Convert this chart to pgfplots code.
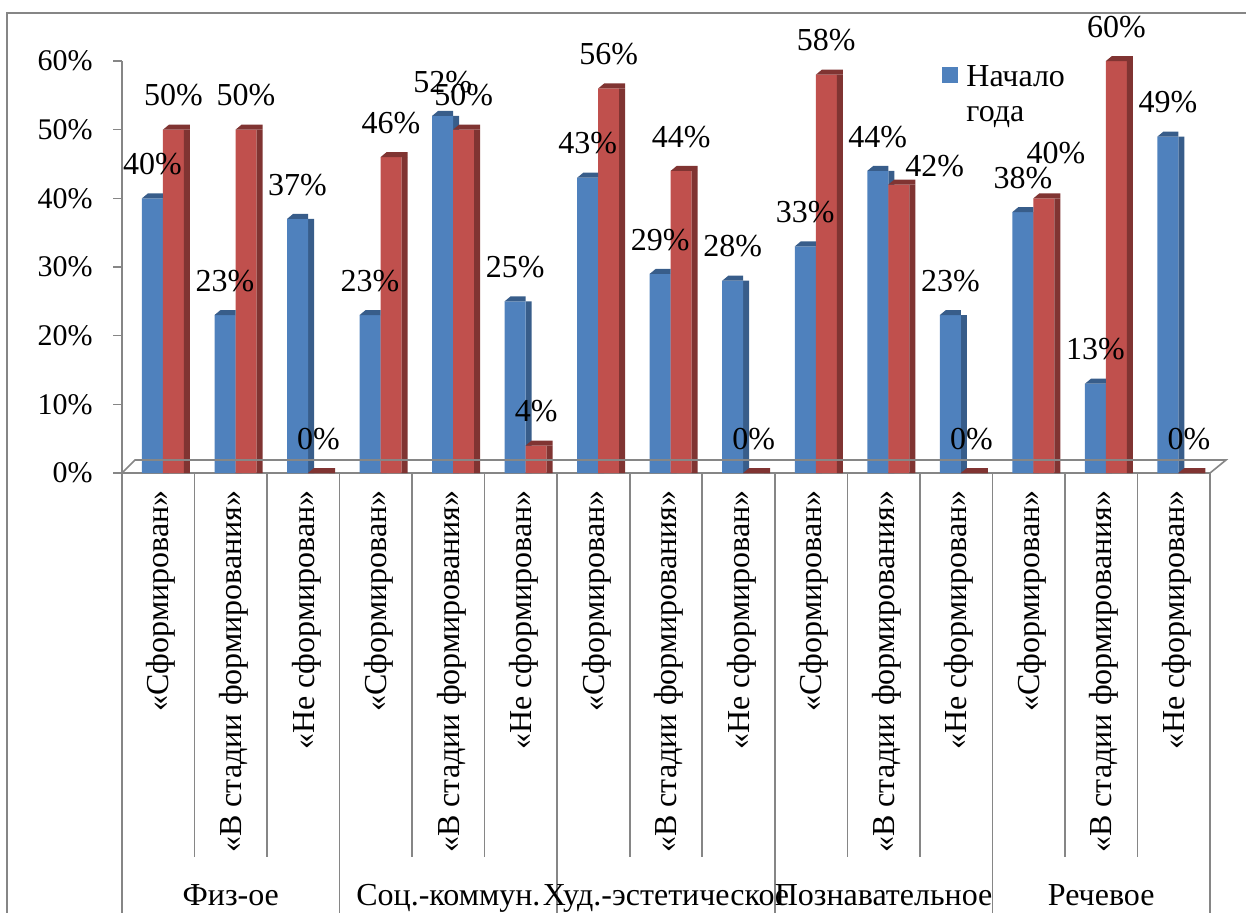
\documentclass[border=0pt]{standalone}
\usepackage{fontspec}
\setmainfont{Liberation Serif}
\usepackage{pgfplots}
\usepackage{pgfplotstable}
\pgfplotsset{compat=1.18}
\definecolor{barblue}{RGB}{79,129,189}
\definecolor{barred}{RGB}{192,80,77}
\definecolor{blueside}{RGB}{56,93,138}
\definecolor{redside}{RGB}{128,52,50}
\definecolor{axgray}{RGB}{134,134,134}
\newcommand{\lf}{\fontsize{16}{17.5}\selectfont}
\newcommand{\tf}{\fontsize{15}{17.5}\selectfont}

% 3D caps of the bars, drawn at each data point
\pgfdeclareplotmark{bluetop}{%
  \pgfpathmoveto{\pgfpoint{-8.15pt}{0pt}}%
  \pgfpathlineto{\pgfpoint{2.35pt}{0pt}}%
  \pgfpathlineto{\pgfpoint{2.35pt}{2.5pt}}%
  \pgfpathlineto{\pgfpoint{-5.15pt}{2.5pt}}%
  \pgfpathclose\pgfusepathqfill}
\pgfdeclareplotmark{redtop}{%
  \pgfpathmoveto{\pgfpoint{2.35pt}{0pt}}%
  \pgfpathlineto{\pgfpoint{15.85pt}{0pt}}%
  \pgfpathlineto{\pgfpoint{15.85pt}{2.5pt}}%
  \pgfpathlineto{\pgfpoint{5.35pt}{2.5pt}}%
  \pgfpathclose\pgfusepathqfill}

% rdx, rdy: manual offsets (pt) of the red data labels, as in the reference
\pgfplotstableread{
x blue red rdx rdy
0 40 50 0 0
1 23 50 0 0
2 37 0 0 0
3 23 46 0 0
4 52 50 0 0
5 25 4 0 0
6 43 56 0 0
7 29 44 0 0
8 28 0 0 0
9 33 58 0 0
10 44 42 18 -7.7
11 23 0 0 0
12 38 40 6 5.5
13 13 60 0 0
14 49 0 0 0
}\datatable

\begin{document}
\begin{tikzpicture}
\useasboundingbox (0,0) rectangle (623pt,-456.5pt);
\draw[axgray, line width=0.8pt] (3.5pt,-456.5pt) -- (3.5pt,-6.5pt) -- (623pt,-6.5pt);
\begin{axis}[
  at={(61pt,-236.5pt)}, anchor=south west,
  scale only axis, width=544pt, height=206pt,
  xmin=-0.5, xmax=14.5, ymin=0, ymax=60,
  clip=false,
  axis lines=left,
  axis line style={-, axgray, line width=0.8pt},
  xtick={0,...,14},
  xticklabels={«Сформирован»,«В стадии формирования»,«Не сформирован»,«Сформирован»,«В стадии формирования»,«Не сформирован»,«Сформирован»,«В стадии формирования»,«Не сформирован»,«Сформирован»,«В стадии формирования»,«Не сформирован»,«Сформирован»,«В стадии формирования»,«Не сформирован»},
  x tick style={draw=none},
  xticklabel style={yshift=-4pt, xshift=1.5pt, rotate=90, anchor=east, font=\lf, inner sep=0pt},
  ytick={0,10,...,60},
  yticklabel={\pgfmathprintnumber{\tick}\%},
  y tick style={axgray, line width=0.8pt},
  tick align=outside, major tick length=4.5pt,
  yticklabel style={font=\tf, inner sep=0pt, xshift=-10pt},
  /pgf/number format/assume math mode=true,
  legend style={at={(rel axis cs:0.7537,1.0)}, anchor=north west, draw=none, fill=none, font=\lf, inner sep=0pt},
  legend cell align=left,
  every node near coord/.append style={font=\lf, anchor=south, inner sep=0pt},
]
\addplot[ybar, bar width=3pt, bar shift=3.85pt, fill=blueside, draw=none, forget plot] table[x=x,y=blue]{\datatable};
\addplot[ybar, bar width=10.5pt, bar shift=-2.9pt, fill=barblue, draw=none,
  nodes near coords={\pgfmathprintnumber{\pgfplotspointmeta}\%},
  every node near coord/.append style={xshift=-2.9pt, yshift=11.5pt},
  legend image code/.code={\fill[barblue] (0pt,-3pt) rectangle (8pt,5pt); \path (10pt,0pt);}] table[x=x,y=blue]{\datatable};
\addlegendentry{\parbox[t]{60pt}{Начало\\года}}
\addplot[only marks, mark=bluetop, color=blueside, forget plot] table[x=x,y=blue]{\datatable};
\addplot[ybar, bar width=10.5pt, bar shift=7.6pt, fill=barred, draw=none, forget plot,
  visualization depends on={\thisrow{rdx} \as \rdx},
  visualization depends on={\thisrow{rdy} \as \rdy},
  nodes near coords={\pgfmathprintnumber{\pgfplotspointmeta}\%},
  every node near coord/.append style={xshift={7.6pt+\rdx pt}, yshift={11.5pt+\rdy pt}}] table[x=x,y=red]{\datatable};
\addplot[ybar, bar width=3pt, bar shift=14.35pt, fill=redside, draw=none, forget plot] table[x=x,y=red]{\datatable};
\addplot[only marks, mark=redtop, color=redside, forget plot] table[x=x,y=red]{\datatable};

\draw[axgray, line width=0.8pt] (axis cs:-0.5,0) -- ++(6.5pt,6.5pt) -- ([xshift=8pt,yshift=6.5pt]axis cs:14.5,0) -- (axis cs:14.5,0);
\pgfplotsinvokeforeach{0.5,1.5,3.5,4.5,6.5,7.5,9.5,10.5,12.5,13.5}{
  \draw[axgray, line width=0.8pt] (axis cs:#1,0) -- ++(0pt,-192pt);
}
\pgfplotsinvokeforeach{-0.5,2.5,5.5,8.5,11.5,14.5}{
  \draw[axgray, line width=0.8pt] (axis cs:#1,0) -- ++(0pt,-222pt);
}
\node[anchor=base, font=\lf] at ([yshift=-216pt]axis cs:1,0) {Физ-ое};
\node[anchor=base, font=\lf] at ([yshift=-216pt]axis cs:4,0) {Соц.-коммун.};
\node[anchor=base, font=\lf] at ([yshift=-216pt]axis cs:7,0) {Худ.-эстетическое};
\node[anchor=base, font=\lf] at ([yshift=-216pt]axis cs:10,0) {Познавательное};
\node[anchor=base, font=\lf] at ([yshift=-216pt]axis cs:13,0) {Речевое};
\end{axis}
\end{tikzpicture}
\end{document}
